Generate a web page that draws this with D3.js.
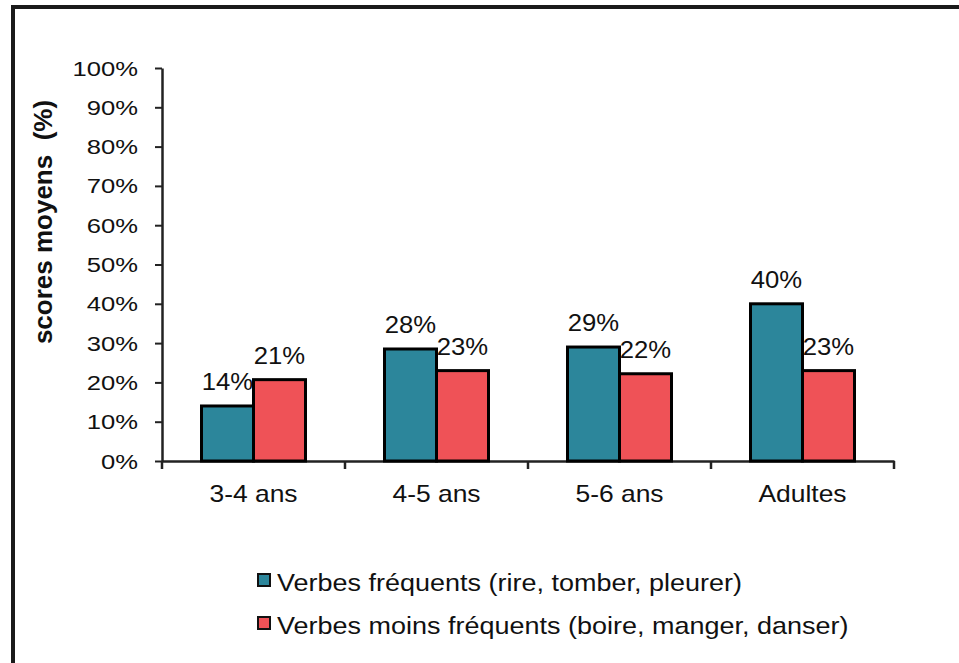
<!DOCTYPE html>
<html>
<head>
<meta charset="utf-8">
<script src="https://cdn.jsdelivr.net/npm/d3@7"></script>
<style>
  body { margin: 0; background: #fff; }
  svg text { font-family: "Liberation Sans", Arial, sans-serif; fill: #111; }
</style>
</head>
<body>
<svg id="chart" width="959" height="663"></svg>
<script>
// categories and series
const groups = ["3-4 ans", "4-5 ans", "5-6 ans", "Adultes"];
const frequentVals = [0.14, 0.285, 0.29, 0.40];
const lessFrequentVals = [0.207, 0.23, 0.222, 0.23];
const frequentLabels = ["14%", "28%", "29%", "40%"];
const lessFrequentLabels = ["21%", "23%", "22%", "23%"];
const seriesNames = ["Verbes fréquents (rire, tomber, pleurer)", "Verbes moins fréquents (boire, manger, danser)"];
const seriesColors = ["#2c869b", "#ef5257"];
const yTicks = [0, 0.1, 0.2, 0.3, 0.4, 0.5, 0.6, 0.7, 0.8, 0.9, 1];

const svg = d3.select("#chart");

// frame lines (top + left, as in the cropped source)
svg.append("rect").attr("x", 11).attr("y", 5).attr("width", 948).attr("height", 4).attr("fill", "#1a1a1a");
svg.append("rect").attr("x", 11).attr("y", 5).attr("width", 4).attr("height", 658).attr("fill", "#1a1a1a");

const x = d3.scaleBand().domain(groups).range([162, 894]).paddingInner(0).paddingOuter(0);
const y = d3.scaleLinear().domain([0, 1]).range([461, 68]);

// helper: text stretched horizontally around its anchor
function stretched(sel, sx) {
    sel.each(function () {
        let t = d3.select(this);
        let px = +t.attr("x"), py = +t.attr("y");
        t.attr("x", 0).attr("y", 0).attr("transform", "translate(" + px + "," + py + ") scale(" + sx + ",1)");
    });
}

// y axis
const yAxis = svg.append("g").attr("transform", "translate(162,0)")
    .call(d3.axisLeft(y).tickValues(yTicks).tickFormat(d3.format(".0%")).tickSize(7).tickSizeOuter(0).tickPadding(0));
yAxis.select(".domain").attr("stroke", "#222").attr("stroke-width", 2.5);
yAxis.selectAll(".tick line").attr("stroke", "#222").attr("stroke-width", 2);
yAxis.selectAll(".tick text").remove();
yAxis.selectAll(".tick").append("text")
    .attr("x", -24).attr("y", 7)
    .attr("text-anchor", "end")
    .style("font-size", "20px")
    .text(d => d3.format(".0%")(d))
    .call(stretched, 1.28);

// x axis
const xAxis = svg.append("g").attr("transform", "translate(0,461)")
    .call(d3.axisBottom(x).tickSize(0).tickSizeOuter(0));
xAxis.select(".domain").attr("stroke", "#222").attr("stroke-width", 2.5);
xAxis.selectAll(".tick").remove();
// boundary ticks between categories
const bounds = groups.map(g => x(g)).concat([x.range()[1]]);
xAxis.selectAll(".sep").data(bounds).enter().append("line")
    .attr("x1", d => d).attr("x2", d => d).attr("y1", 0).attr("y2", 8)
    .attr("stroke", "#222").attr("stroke-width", 2.5);
xAxis.selectAll(".cat").data(groups).enter().append("text")
    .attr("x", d => x(d) + x.bandwidth() / 2).attr("y", 41)
    .attr("text-anchor", "middle")
    .style("font-size", "23px")
    .text(d => d)
    .call(stretched, 1.15);

// bars
const barW = 52;
const series = [
    { vals: frequentVals, labels: frequentLabels, off: -barW },
    { vals: lessFrequentVals, labels: lessFrequentLabels, off: 0 }
];
series.forEach(function (s, i) {
    let g = svg.append("g");
    g.selectAll("rect").data(groups).enter().append("rect")
        .attr("x", (d, j) => x(d) + x.bandwidth() / 2 + s.off)
        .attr("y", (d, j) => y(s.vals[j]))
        .attr("width", barW)
        .attr("height", (d, j) => y(0) - y(s.vals[j]))
        .attr("fill", seriesColors[i])
        .attr("stroke", "#000").attr("stroke-width", 3);
    g.selectAll("text").data(groups).enter().append("text")
        .attr("x", (d, j) => x(d) + x.bandwidth() / 2 + s.off + barW / 2)
        .attr("y", (d, j) => y(s.vals[j]) - 16)
        .attr("text-anchor", "middle")
        .style("font-size", "24px")
        .text((d, j) => s.labels[j])
        .call(stretched, 1.07);
});

// y title (double space kept)
svg.append("text")
    .attr("transform", "translate(52,222) rotate(-90) scale(1.0,1)")
    .attr("text-anchor", "middle")
    .style("font-size", "26px").style("font-weight", "bold")
    .style("white-space", "pre")
    .text("scores moyens  (%)");

// legend
const legend = svg.append("g");
seriesNames.forEach(function (name, i) {
    let ly = 574 + i * 43;
    legend.append("rect").attr("x", 258).attr("y", ly).attr("width", 12).attr("height", 12)
        .attr("fill", seriesColors[i]).attr("stroke", "#111").attr("stroke-width", 2);
    legend.append("text").attr("x", 277).attr("y", ly + 17)
        .style("font-size", "24px")
        .text(name)
        .call(stretched, 1.125);
});
</script>
</body>
</html>
